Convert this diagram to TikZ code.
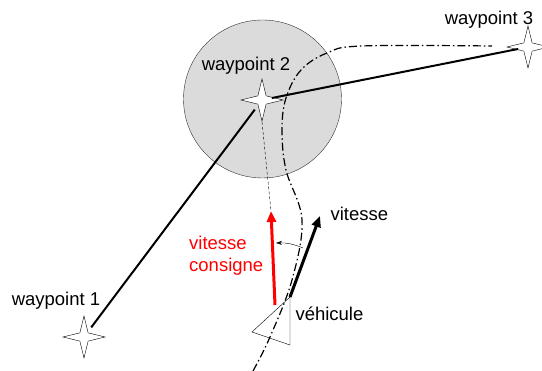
\documentclass[tikz,border=0pt]{standalone}
\usepackage{fontspec}
\setmainfont{Liberation Sans}
\usepackage{xcolor}
\usetikzlibrary{positioning,shapes.geometric,arrows.meta}

\begin{document}
\begin{tikzpicture}
		[x=1pt,y=1pt,font=\fontsize{18.5}{22}\selectfont,
		waypoint/.style={star,star points=4,star point ratio=3.6,draw=black,fill=white,thin,inner sep=0pt,minimum size=42pt},
		zone/.style={circle,draw=black!80,fill=black!14,thin,inner sep=0pt,minimum size=158pt},
		segment/.style={line width=2pt,shorten <=12pt,shorten >=12pt},
		trajectory/.style={line width=1.2pt,dash pattern=on 8pt off 3pt on 1.5pt off 3pt},
		vecteur/.style={line width=3pt,-{Triangle[length=11pt,width=9pt]}}]
		\useasboundingbox (0,0) rectangle (542,371);

		\node [zone] (cercle) at (262.5,272) {};

		% trajectoire du vehicule
		\draw [trajectory] plot [smooth,tension=0.6] coordinates
			{(253,0) (270,34) (292,91) (302,151) (286,201) (282,241) (286,273) (301,301) (327,318) (362,325) (492,325)};

		\node [waypoint] (w1) at (84,34) {};
		\node [waypoint] (w2) at (262,271) {};
		\node [waypoint] (w3) at (528,324) {};

		\node (l1) at (56,70) {waypoint 1};
		\node (l2) at (246,305) {waypoint 2};
		\node (l3) at (489,351) {waypoint 3};

		\draw [segment] (w1.center) -- (w2.center);
		\draw [segment,shorten <=10pt,shorten >=10pt] (w2.center) -- (w3.center);

		% vehicule
		\coordinate (avant) at (290,74);
		\coordinate (gauche) at (252,39);
		\coordinate (arriere) at (290,26);
		\draw [thin] (avant) -- (gauche) -- (arriere) -- cycle;
		\node (vehicule) [right=2pt of avant, yshift=-17pt] {véhicule};

		\coordinate (baseR) at (275,66);
		\coordinate (tipR) at (271,160);
		\coordinate (tipV) at (320,155);
		\draw [vecteur,red] (baseR) -- (tipR);
		\draw [vecteur,black] (avant) -- (tipV);
		\draw [densely dashed,thin] (w2.south) -- (tipR);

		\node (vitesse) [anchor=west] at (327,157) {vitesse};
		\node (consigne) [anchor=west,align=left,text=red,inner sep=0pt] at (189,115) {vitesse\\consigne};

		\coordinate (a1) at (303,123);
		\coordinate (a2) at (276,128);
		\draw [thin,-{Stealth[length=6pt,width=4pt]}] (a1) to [bend right=12] (a2);

	\end{tikzpicture}
\end{document}
